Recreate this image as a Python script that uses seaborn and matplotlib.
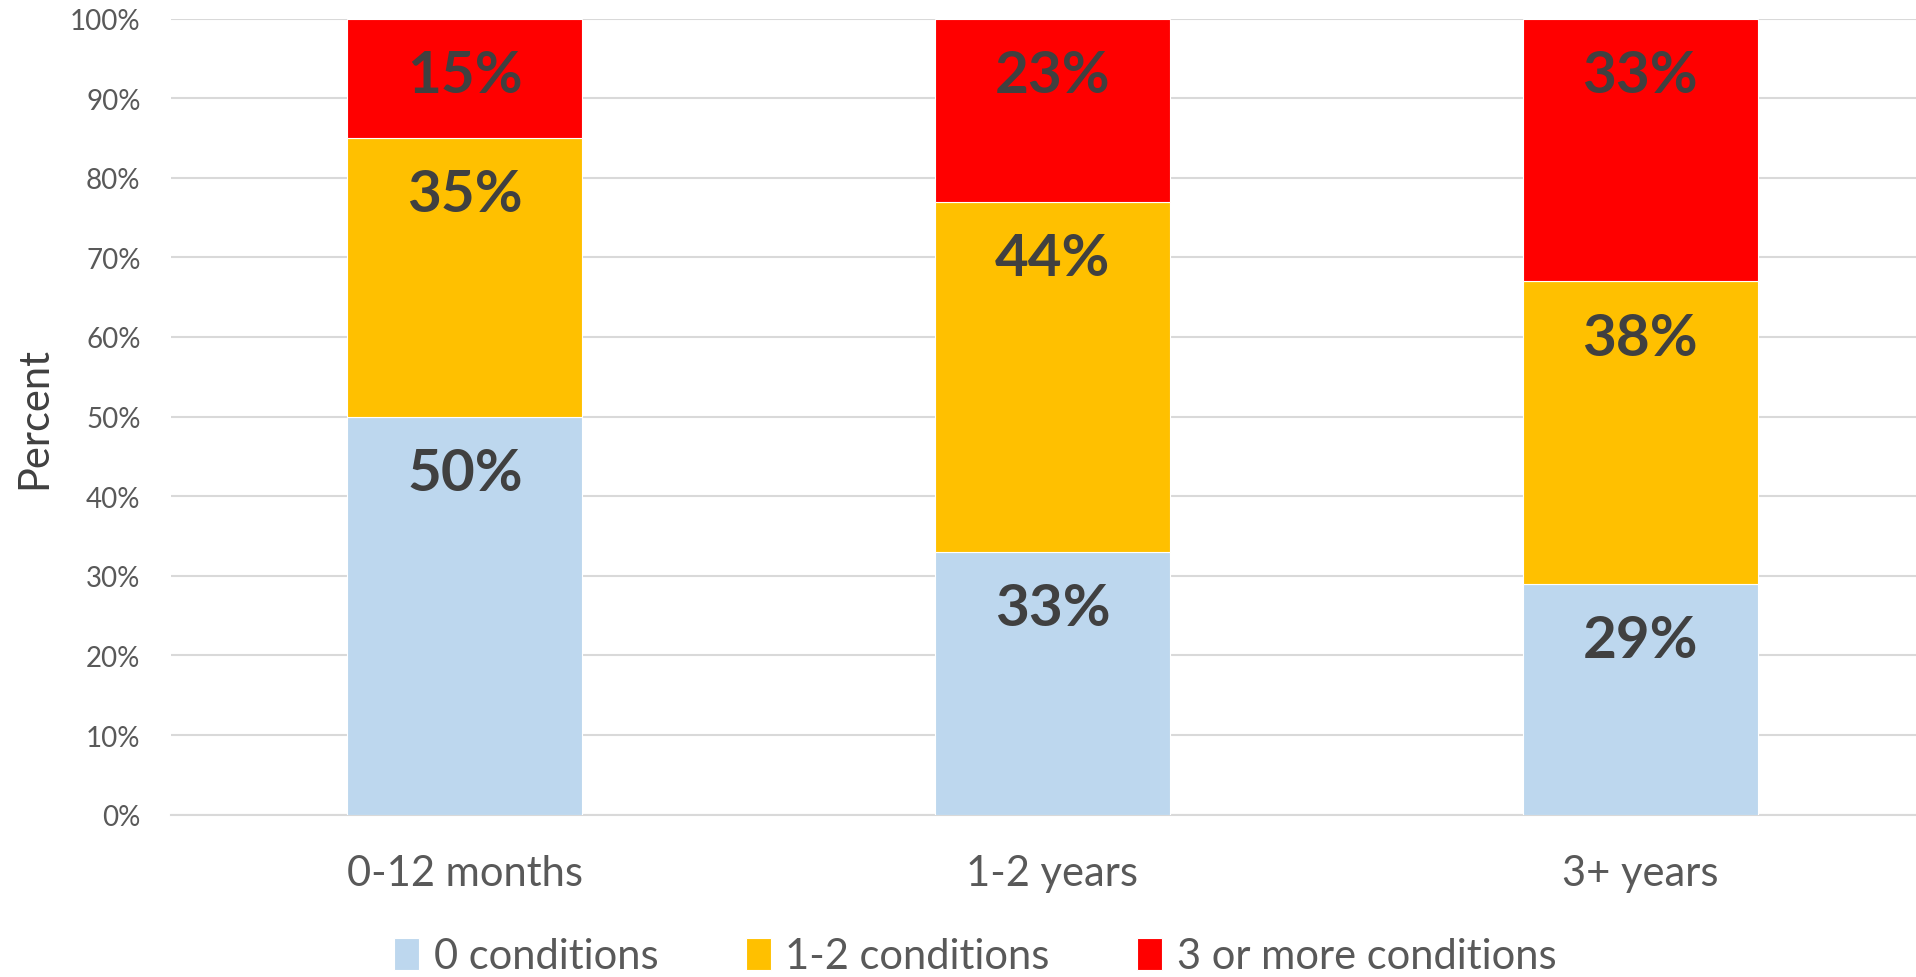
import matplotlib
matplotlib.use("Agg")
import matplotlib.pyplot as plt
import seaborn as sns
import pandas as pd
import numpy as np

categories = ["0-12 months", "1-2 years", "3+ years"]
series_names = ["0 conditions", "1-2 conditions", "3 or more conditions"]
zero_conditions = [50, 33, 29]
one_two_conditions = [35, 44, 38]
three_plus_conditions = [15, 23, 33]
y_ticks = [0, 10, 20, 30, 40, 50, 60, 70, 80, 90, 100]

colors = ["#BDD7EE", "#FFC000", "#FF0000"]

sns.set_theme(style="white")
plt.rcParams["font.family"] = ["Lato", "DejaVu Sans"]

fig = plt.figure(figsize=(19.16, 9.78), dpi=100)
ax = fig.add_axes([0.0893, 0.166, 0.92, 0.814])

values = [zero_conditions, one_two_conditions, three_plus_conditions]
bottom = np.zeros(len(categories))
for name, vals, col in zip(series_names, values, colors):
    df = pd.DataFrame({"cat": categories, "val": vals})
    sns.barplot(data=df, x="cat", y="val", color=col, saturation=1, width=0.4,
                bottom=bottom, ax=ax, label=name, edgecolor="white",
                linewidth=0.8, zorder=3)
    for i, v in enumerate(vals):
        top = bottom[i] + v
        ax.annotate(f"{v}%", xy=(i, top), xytext=(0, -41), textcoords="offset points",
                    ha="center", va="center", fontsize=42, fontweight="bold",
                    color="#404040", zorder=5)
    bottom = bottom + np.array(vals)

ax.set_xlim(-0.5, 2.5)
ax.set_ylim(0, 100)
ax.set_yticks(y_ticks)
ax.set_yticklabels([f"{t}%" for t in y_ticks], fontsize=20, color="#595959")
ax.tick_params(axis="x", labelsize=30, labelcolor="#595959", pad=28, length=0)
ax.tick_params(axis="y", length=0, pad=22)
ax.yaxis.grid(True, color="#D9D9D9", linewidth=1.5, zorder=0)
ax.set_axisbelow(True)
for s in ["top", "right", "left"]:
    ax.spines[s].set_visible(False)
ax.spines["bottom"].set_color("#D9D9D9")
ax.spines["bottom"].set_linewidth(1.5)
ax.set_xlabel("")
ax.set_ylabel("Percent", fontsize=30, color="#404040", labelpad=12)

ax.legend(loc="center", bbox_to_anchor=(0.509, 0.021), bbox_transform=fig.transFigure,
          ncol=3, frameon=False, fontsize=30, labelcolor="#595959",
          handlelength=0.6, handleheight=0.8, handletextpad=0.35, columnspacing=2.1)

fig.savefig("out.png", dpi=100)
